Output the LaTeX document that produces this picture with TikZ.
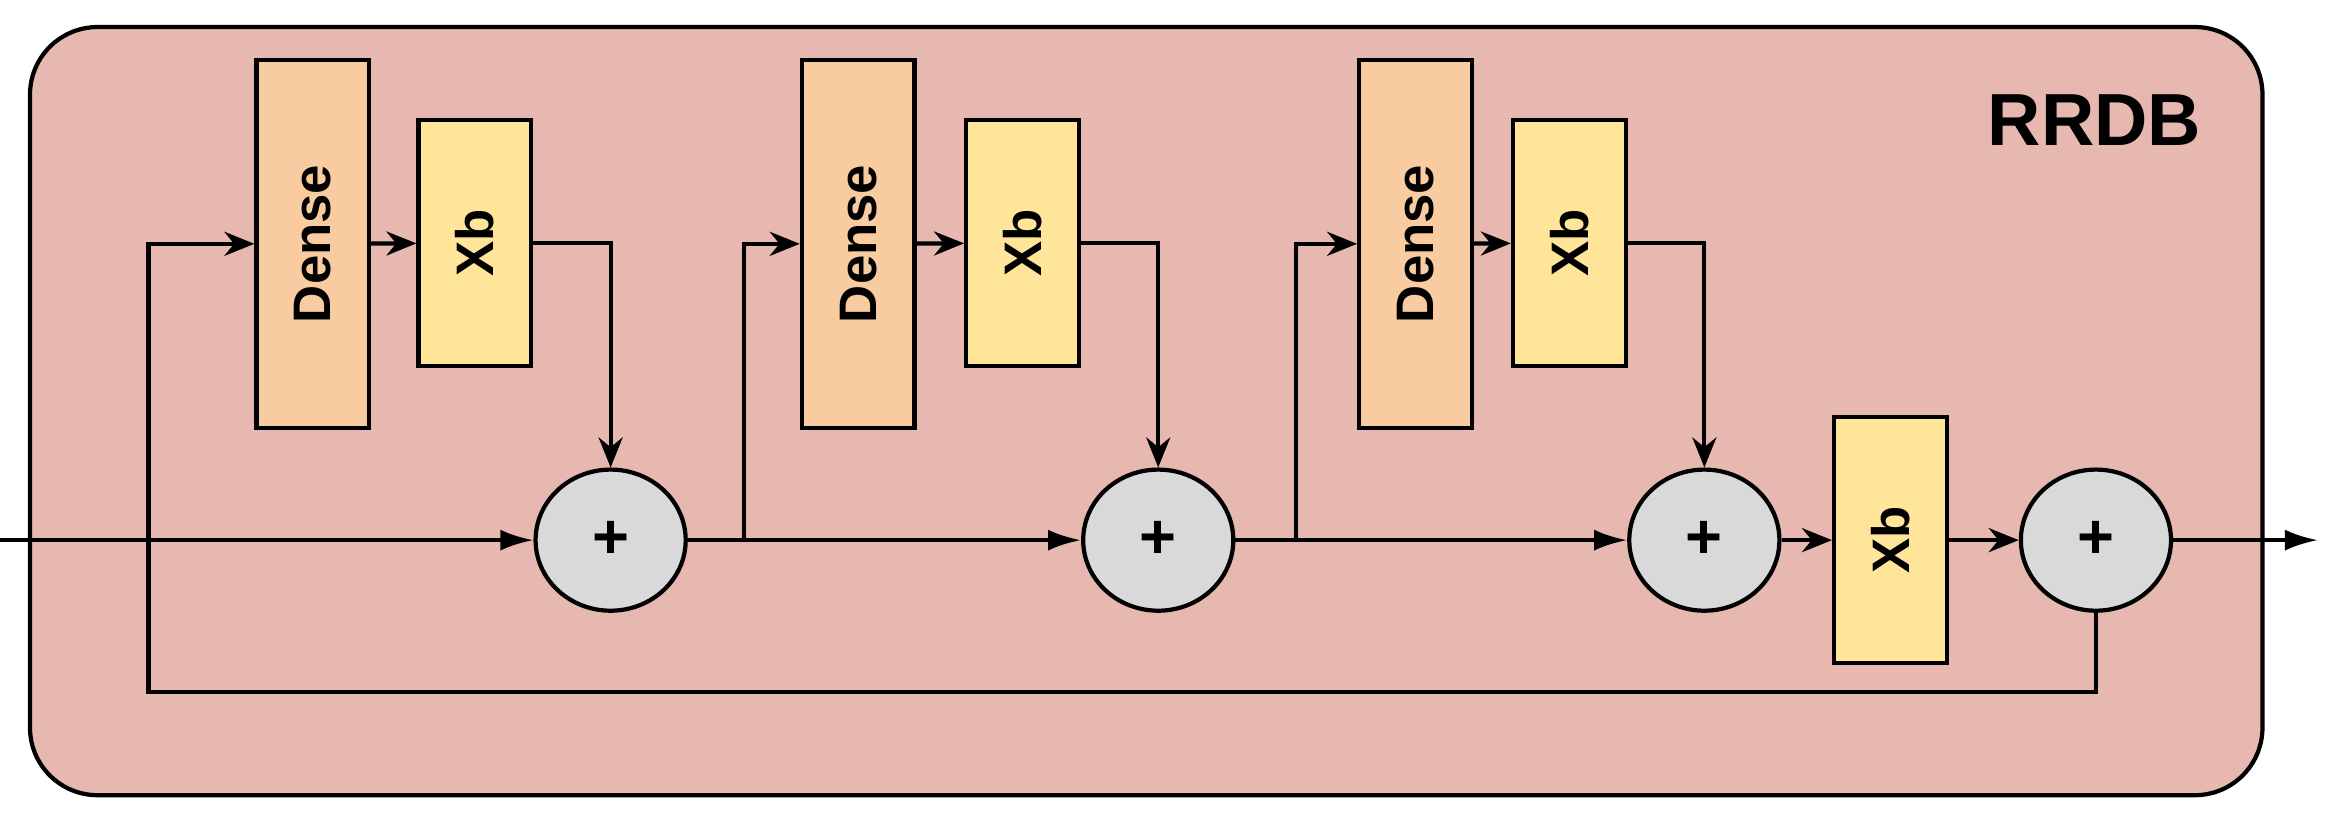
\documentclass[tikz,border=0pt]{standalone}
\usepackage{fontspec}
\setmainfont{Liberation Sans}
\usetikzlibrary{positioning,arrows.meta,shapes.geometric}
\definecolor{bgred}{HTML}{E6B8AF}
\definecolor{denseorange}{HTML}{F8CBA0}
\definecolor{xbyellow}{HTML}{FFE599}
\definecolor{plusgray}{HTML}{D9D9D9}

\begin{document}
\begin{tikzpicture}[x=0.01cm, y=-0.01cm,
  block/.style={draw, thick, minimum width=0.75cm, inner sep=0pt, font=\bfseries\fontsize{10}{10}\selectfont},
  dense/.style={block, fill=denseorange, minimum height=2.45cm},
  xb/.style={block, fill=xbyellow, minimum height=1.64cm},
  plus/.style={ellipse, draw, thick, fill=plusgray, minimum width=1cm, minimum height=0.94cm, inner sep=0pt, font=\bfseries\large},
  arr/.style={-{Latex[length=2.2mm,width=1.4mm]}},
  sarr/.style={-{Stealth[length=2mm,width=1.6mm]}}
]
  \useasboundingbox (0,0) rectangle (1565,547);
  \draw[thick, fill=bgred, rounded corners=0.45cm] (20,18) rectangle (1508,530);
  \node[font=\bfseries\fontsize{14}{14}\selectfont] (title) at (1396,80) {RRDB};

  % dense blocks and their branches
  \node[dense] (d1) at (208.5,162.5) {\rotatebox{90}{Dense}};
  \node[dense] (d2) at (572,162.5) {\rotatebox{90}{Dense}};
  \node[dense] (d3) at (943.5,162.5) {\rotatebox{90}{Dense}};
  \node[xb] (x1) at (316.5,162) {\rotatebox{90}{Xb}};
  \node[xb] (x2) at (681.5,162) {\rotatebox{90}{Xb}};
  \node[xb] (x3) at (1046,162) {\rotatebox{90}{Xb}};
  \node[xb] (x4) at (1260,360) {\rotatebox{90}{Xb}};

  \node[plus] (p1) at (407,360) {+};
  \node[plus] (p2) at (772,360) {+};
  \node[plus] (p3) at (1136,360) {+};
  \node[plus] (p4) at (1397,360) {+};

  \coordinate (in) at (0,360);
  \coordinate (out) at (1545,360);
  \coordinate (s0) at (99,360);
  \coordinate (s1) at (496,360);
  \coordinate (s2) at (864,360);

  % main path
  \draw[thick, arr] (in) -- (p1);
  \draw[thick, arr] (p1) -- (p2);
  \draw[thick, arr] (p2) -- (p3);
  \draw[thick, sarr] (p3) -- (x4);
  \draw[thick, sarr] (x4) -- (p4);
  \draw[thick, arr] (p4) -- (out);

  % branches
  \draw[thick, sarr] (s0) |- (d1);
  \draw[thick, sarr] (s1) |- (d2);
  \draw[thick, sarr] (s2) |- (d3);
  \draw[thick, sarr] (d1) -- (x1);
  \draw[thick, sarr] (d2) -- (x2);
  \draw[thick, sarr] (d3) -- (x3);
  \draw[thick, sarr] (x1.east) -| (p1.north);
  \draw[thick, sarr] (x2.east) -| (p2.north);
  \draw[thick, sarr] (x3.east) -| (p3.north);

  % long skip
  \draw[thick] (p4.south) |- (99,461) -- (s0);
\end{tikzpicture}
\end{document}
